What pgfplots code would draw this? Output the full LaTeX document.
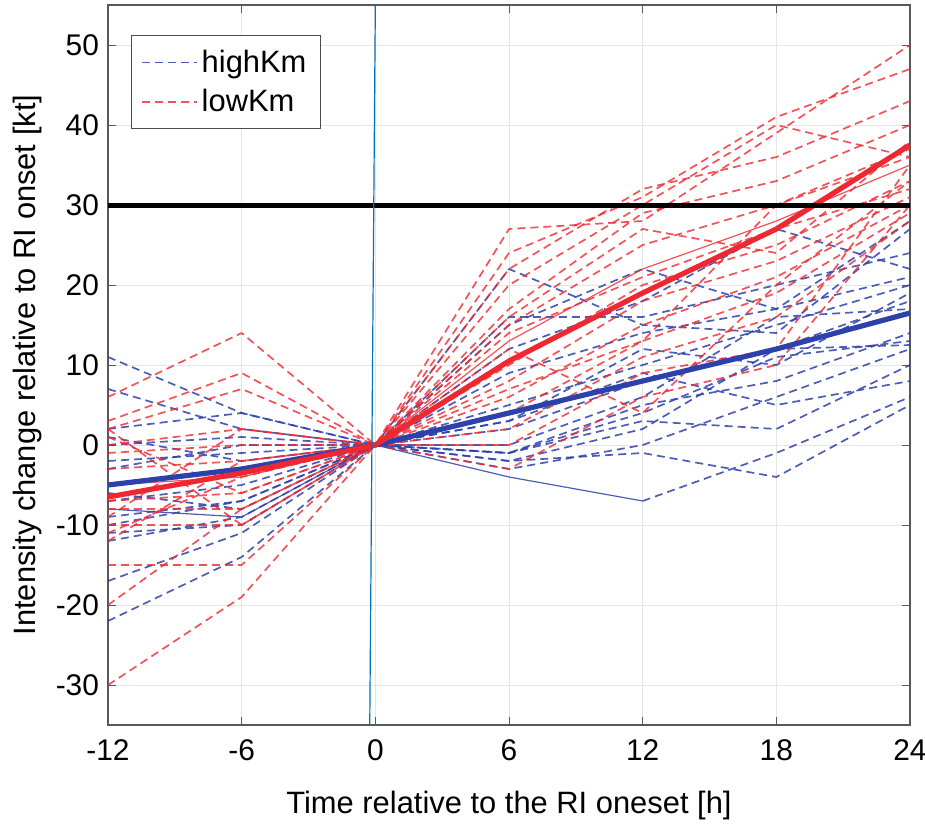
\documentclass[border=0pt]{standalone}
\usepackage{pgfplots}
\pgfplotsset{compat=1.18}
\usepackage{fontspec}
\setmainfont{Liberation Sans}
\definecolor{hb}{RGB}{45,65,170}
\definecolor{lr}{RGB}{238,40,48}
\definecolor{vb}{RGB}{0,114,189}
\begin{document}
\begin{tikzpicture}
\path[use as bounding box] (-54bp,-53bp) rectangle (408.5bp,362.5bp);
\begin{axis}[
  scale only axis, width=401bp, height=360bp,
  xmin=-12, xmax=24, ymin=-35, ymax=55,
  xtick={-12,-6,0,6,12,18,24},
  ytick={-30,-20,-10,0,10,20,30,40,50},
  tick align=inside, major tick length=4bp,
  grid=major, grid style={gray!20, line width=0.5bp},
  axis line style={gray!70!black, line width=0.6bp},
  tick style={gray!70!black},
  /pgf/number format/assume math mode=true,
  ticklabel style={font=\fontsize{15}{18}\selectfont},
  xticklabel style={yshift=-4bp},
  yticklabel style={xshift=-1bp},
  xlabel={Time relative to the RI oneset [h]},
  ylabel={Intensity change relative to RI onset [kt]},
  label style={font=\fontsize{15.5}{18}\selectfont},
  xlabel style={yshift=-8bp},
  ylabel style={yshift=0bp},
  legend style={at={(rel axis cs:0.0287,0.958)}, anchor=north west,
    draw=gray!60!black, line width=0.6bp, font=\fontsize{15.5}{18}\selectfont,
    inner xsep=5bp, inner ysep=5bp, row sep=3bp},
  legend image post style={xscale=1.6},
  legend cell align=left,
  every axis plot/.append style={line join=round},
]
\pgfplotsset{
  bd/.style={hb, opacity=0.85, line width=0.85bp, dash pattern=on 4bp off 2.5bp},
  rd/.style={lr, opacity=0.8, line width=0.85bp, dash pattern=on 4bp off 2.5bp},
}
% legend entries
\addplot[bd] coordinates {(-12,7) (-6,2) (0,0) (6,22) (12,15) (18,14) (24,27)};
\addlegendentry{highKm}
\addplot[rd] coordinates {(-12,6) (-6,14) (0,0) (6,27) (12,28) (18,39) (24,50)};
\addlegendentry{lowKm}
% highKm
\addplot[bd,forget plot] coordinates {(-12,11) (-6,4) (0,0) (6,15) (12,22) (18,17) (24,28)};
\addplot[bd,forget plot] coordinates {(-12,2) (-6,4) (0,0) (6,16) (12,16) (18,20) (24,24)};
\addplot[bd,forget plot] coordinates {(-12,0) (-6,1) (0,0) (6,12) (12,18) (18,27) (24,22)};
\addplot[bd,forget plot] coordinates {(-12,-2) (-6,-1) (0,0) (6,9) (12,14) (18,17) (24,21)};
\addplot[bd,forget plot] coordinates {(-12,-3) (-6,0) (0,0) (6,5) (12,10) (18,15) (24,20)};
\addplot[bd,forget plot] coordinates {(-12,-5) (-6,-3) (0,0) (6,3) (12,12) (18,10) (24,19)};
\addplot[bd,forget plot] coordinates {(-12,-7) (-6,-5) (0,0) (6,2) (12,8) (18,12) (24,18)};
\addplot[bd,forget plot] coordinates {(-12,-9) (-6,-7) (0,0) (6,0) (12,6) (18,16) (24,17)};
\addplot[bd,forget plot] coordinates {(-12,-10) (-6,-7) (0,0) (6,-1) (12,5) (18,8) (24,14)};
\addplot[bd,forget plot] coordinates {(-12,-11) (-6,-10) (0,0) (6,-2) (12,2) (18,12) (24,12.5)};
\addplot[bd,forget plot] coordinates {(-12,-12) (-6,-9) (0,0) (6,-3) (12,0) (18,6) (24,12)};
\addplot[bd,forget plot] coordinates {(-12,-17) (-6,-11) (0,0) (6,-2) (12,-1) (18,-4) (24,5)};
\addplot[bd,forget plot] coordinates {(-12,-22) (-6,-14) (0,0) (6,-1) (12,3) (18,2) (24,10)};
\addplot[hb,opacity=0.85,line width=0.6bp,forget plot] coordinates {(-12,-8) (-6,-9) (0,0) (6,-4) (12,-7)};
\addplot[bd,forget plot] coordinates {(12,-7) (18,-1) (24,6)};
\addplot[bd,forget plot] coordinates {(-12,1) (-6,-2) (0,0) (6,3) (12,9) (18,5) (24,8)};
\addplot[bd,forget plot] coordinates {(-12,-6) (-6,-8) (0,0) (6,-1) (12,4) (18,11) (24,13)};
% lowKm
\addplot[rd,forget plot] coordinates {(-12,3) (-6,9) (0,0) (6,24) (12,31) (18,41) (24,47)};
\addplot[rd,forget plot] coordinates {(-12,2) (-6,7) (0,0) (6,22) (12,32) (18,36) (24,43)};
\addplot[rd,forget plot] coordinates {(-12,0) (-6,2) (0,0) (6,20) (12,30) (18,40) (24,36)};
\addplot[rd,forget plot] coordinates {(-12,-1) (-6,0) (0,0) (6,17) (12,29) (18,33) (24,40)};
\addplot[rd,forget plot] coordinates {(-12,-3) (-6,-2) (0,0) (6,15) (12,25) (18,30) (24,37)};
\addplot[lr,opacity=0.8,line width=0.6bp,forget plot] coordinates {(-12,-5) (-6,-4) (0,0) (6,13) (12,22) (18,28) (24,35)};
\addplot[rd,forget plot] coordinates {(-12,-7) (-6,-6) (0,0) (6,10) (12,20) (18,25) (24,33)};
\addplot[rd,forget plot] coordinates {(-12,-8) (-6,-8) (0,0) (6,8) (12,18) (18,23) (24,31)};
\addplot[rd,forget plot] coordinates {(-12,-10) (-6,-10) (0,0) (6,6) (12,15) (18,21) (24,30)};
\addplot[rd,forget plot] coordinates {(-12,-11) (-6,-4) (0,0) (6,4) (12,13) (18,19) (24,29)};
\addplot[rd,forget plot] coordinates {(-12,-12) (-6,-2) (0,0) (6,2) (12,11) (18,16) (24,28)};
\addplot[rd,forget plot] coordinates {(-12,-15) (-6,-15) (0,0) (6,0) (12,9) (18,12) (24,35)};
\addplot[rd,forget plot] coordinates {(-12,-20) (-6,-8) (0,0) (6,-3) (12,6) (18,10) (24,30)};
\addplot[rd,forget plot] coordinates {(-12,-30) (-6,-19) (0,0) (6,12) (12,4) (18,20) (24,33)};
\addplot[rd,forget plot] coordinates {(-12,2) (-6,-10) (0,0) (6,16) (12,27) (18,24) (24,38)};
\addplot[rd,forget plot] coordinates {(-12,-9) (-6,2) (0,0) (6,7) (12,13) (18,30) (24,36)};
\addplot[rd,forget plot] coordinates {(-12,1) (-6,-6) (0,0) (6,14) (12,21) (18,27) (24,32)};
% means
\addplot[hb, line width=2.6bp, forget plot] coordinates {(-12,-5) (-6,-3) (0,0) (6,4) (12,8) (18,12) (24,16.5)};
\addplot[lr, line width=2.6bp, forget plot] coordinates {(-12,-6.5) (-6,-3.5) (0,0) (6,10.5) (12,19) (18,27) (24,37.5)};
% threshold and onset line
\addplot[black, line width=2.5bp, forget plot] coordinates {(-12,30) (24,30)};
\addplot[vb, line width=0.6bp, forget plot] coordinates {(-0.25,-35) (0,55)};
\end{axis}
\end{tikzpicture}
\end{document}
